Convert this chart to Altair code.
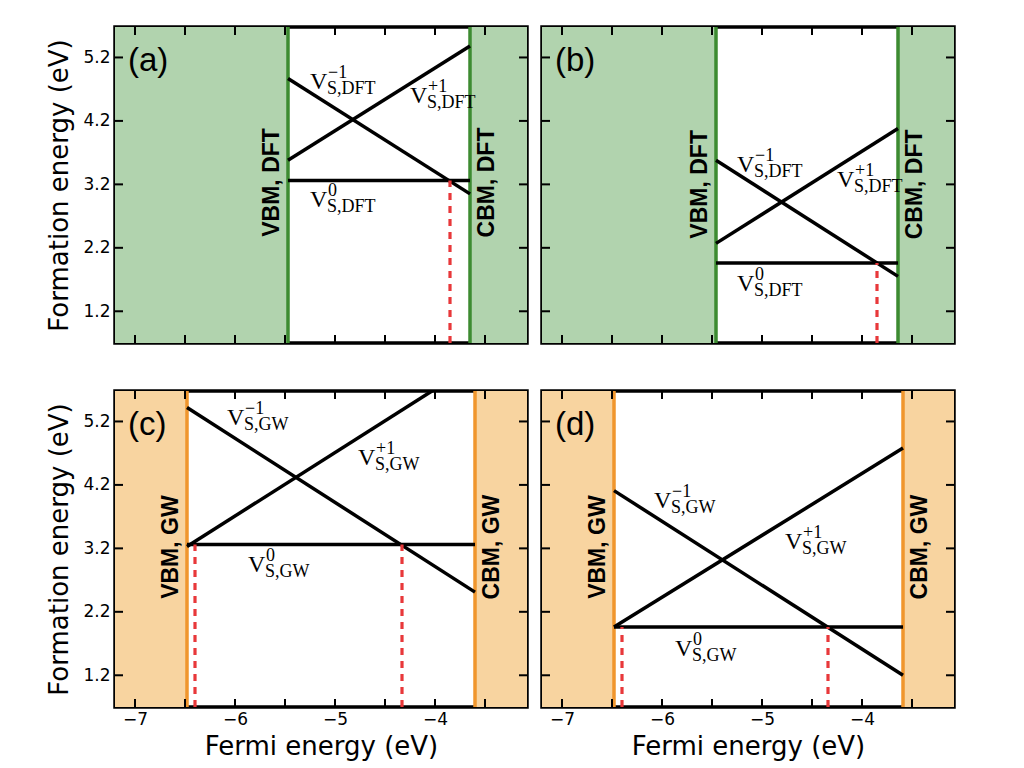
import altair as alt
import pandas as pd

# ---------------- data ----------------
X_DOMAIN = [-7.2, -3.08]
Y_DOMAIN = [0.7, 5.68]

panel_tags = ["(a)", "(b)", "(c)", "(d)"]
methods = ["DFT", "DFT", "GW", "GW"]
vbm = [-5.47, -5.46, -6.48, -6.48]
cbm = [-3.65, -3.64, -3.60, -3.59]

# formation energies of the charge states at the VBM and at the CBM
e_plus_vbm = [3.58, 2.27, 3.23, 1.96]
e_plus_cbm = [5.38, 4.08, 6.11, 4.78]
e_minus_vbm = [4.87, 3.58, 5.42, 4.11]
e_minus_cbm = [3.05, 1.75, 2.51, 1.20]
e_zero = [3.26, 1.96, 3.26, 1.96]

# transition levels (red dashed lines)
transitions = [[-3.85], [-3.85], [-6.40, -4.33], [-6.40, -4.34]]

# label anchors (data coords) for V^-1, V^+1, V^0
lab_minus = [(-5.25, 4.71), (-5.25, 3.40), (-6.08, 5.15), (-6.08, 3.83)]
lab_plus = [(-4.25, 4.48), (-4.25, 3.16), (-4.77, 4.52), (-4.77, 3.19)]
lab_zero = [(-5.25, 2.84), (-5.25, 1.52), (-5.87, 2.82), (-5.87, 1.51)]
sup_text = ["\u22121", "+1", "0"]
band_label_y = [3.23, 3.20, 3.22, 3.22]
tag_pos = (-7.07, 4.99)

x_tick_marks = [-7.0, -6.5, -6.0, -5.5, -5.0, -4.5, -4.0, -3.5]
x_tick_labels = [-7, -6, -5, -4]
y_ticks = [1.2, 2.2, 3.2, 4.2, 5.2]

fills = {"DFT": "#b1d3ae", "GW": "#f8d4a0"}
edges = {"DFT": "#3d8b31", "GW": "#f0962d"}

W, H = 412, 316
SANS = "DejaVu Sans"
SERIF = "Liberation Serif"
TICK = 8


def make_panel(i, show_x, show_y):
    m = methods[i]
    xs = alt.Scale(domain=X_DOMAIN, nice=False, zero=False)
    ys = alt.Scale(domain=Y_DOMAIN, nice=False, zero=False)
    if show_x:
        xaxis = alt.Axis(values=x_tick_labels, title="Fermi energy (eV)", ticks=False,
                         domain=False, grid=False, labelFont=SANS, labelFontSize=17,
                         labelColor="black", labelPadding=4, titleFont=SANS,
                         titleFontSize=26, titleFontWeight="normal", titleColor="black",
                         titlePadding=6,
                         labelExpr="replace(format(datum.value, 'd'), '-', '\u2212')")
    else:
        xaxis = None
    if show_y:
        yaxis = alt.Axis(values=y_ticks, format=".1f", title="Formation energy (eV)",
                         ticks=False, domain=False, grid=False, labelFont=SANS,
                         labelFontSize=17, labelColor="black", labelPadding=5,
                         titleFont=SANS, titleFontSize=26, titleFontWeight="normal",
                         titleColor="black", titlePadding=10)
    else:
        yaxis = None

    def X(f):
        return alt.X(f, type="quantitative", scale=xs, axis=xaxis)

    def Y(f):
        return alt.Y(f, type="quantitative", scale=ys, axis=yaxis)

    shade_df = pd.DataFrame({"x": [X_DOMAIN[0], cbm[i]], "x2": [vbm[i], X_DOMAIN[1]]})
    shade = alt.Chart(shade_df).mark_rect(color=fills[m], opacity=1).encode(
        x=X("x"), x2="x2", y=alt.value(0), y2=alt.value(H))

    edge_df = pd.DataFrame({"x": [vbm[i], cbm[i]]})
    edge = alt.Chart(edge_df).mark_rule(color=edges[m], strokeWidth=3.5).encode(x=X("x"))

    lines_df = pd.DataFrame({
        "x": [vbm[i], vbm[i], vbm[i]],
        "y": [e_plus_vbm[i], e_minus_vbm[i], e_zero[i]],
        "x2": [cbm[i], cbm[i], cbm[i]],
        "y2": [e_plus_cbm[i], e_minus_cbm[i], e_zero[i]],
    })
    lines = alt.Chart(lines_df).mark_rule(color="black", strokeWidth=3.5, clip=True).encode(
        x=X("x"), y=Y("y"), x2="x2", y2="y2")

    tr_df = pd.DataFrame({"x": transitions[i],
                          "y": [Y_DOMAIN[0]] * len(transitions[i]),
                          "y2": [e_zero[i]] * len(transitions[i])})
    trans = alt.Chart(tr_df).mark_rule(color="#e8383a", strokeWidth=3.2,
                                       strokeDash=[7, 6]).encode(
        x=X("x"), y=Y("y"), y2="y2")

    sub = "S," + m
    lab_df = pd.DataFrame({
        "x": [lab_minus[i][0], lab_plus[i][0], lab_zero[i][0]],
        "y": [lab_minus[i][1], lab_plus[i][1], lab_zero[i][1]],
        "sup": sup_text,
        "sub": [sub, sub, sub],
    })
    v_main = alt.Chart(lab_df).mark_text(text="V", font=SERIF, fontSize=24, align="left",
                                         baseline="alphabetic", color="black").encode(
        x=X("x"), y=Y("y"))
    v_sup = alt.Chart(lab_df).mark_text(font=SERIF, fontSize=18, align="left",
                                        baseline="alphabetic", dx=18, dy=-11,
                                        color="black").encode(
        x=X("x"), y=Y("y"), text="sup:N")
    v_sub = alt.Chart(lab_df).mark_text(font=SERIF, fontSize=18, align="left",
                                        baseline="alphabetic", dx=17, dy=5,
                                        color="black").encode(
        x=X("x"), y=Y("y"), text="sub:N")

    # rotated labels: dy moves the text across the band edge (rotated frame)
    vbm_lab = alt.Chart(pd.DataFrame({"x": [vbm[i]], "y": [band_label_y[i]],
                                      "t": ["VBM, " + m]})).mark_text(
        font="Liberation Sans", fontWeight="bold", fontSize=23, angle=270,
        align="center", baseline="alphabetic", dy=-9, color="black").encode(
        x=X("x"), y=Y("y"), text="t:N")
    cbm_lab = alt.Chart(pd.DataFrame({"x": [cbm[i]], "y": [band_label_y[i]],
                                      "t": ["CBM, " + m]})).mark_text(
        font="Liberation Sans", fontWeight="bold", fontSize=23, angle=270,
        align="center", baseline="alphabetic", dy=24, color="black").encode(
        x=X("x"), y=Y("y"), text="t:N")

    tag = alt.Chart(pd.DataFrame({"x": [tag_pos[0]], "y": [tag_pos[1]],
                                  "t": [panel_tags[i]]})).mark_text(
        font="Liberation Sans", fontSize=33, align="left", baseline="alphabetic",
        color="black").encode(x=X("x"), y=Y("y"), text="t:N")

    yt = pd.DataFrame({"y": y_ticks})
    xt = pd.DataFrame({"x": x_tick_marks})
    tick_l = alt.Chart(yt).mark_rule(color="black", strokeWidth=2).encode(
        y=Y("y"), x=alt.value(0), x2=alt.value(TICK))
    tick_r = alt.Chart(yt).mark_rule(color="black", strokeWidth=2).encode(
        y=Y("y"), x=alt.value(W - TICK), x2=alt.value(W))
    tick_b = alt.Chart(xt).mark_rule(color="black", strokeWidth=2).encode(
        x=X("x"), y=alt.value(H - TICK), y2=alt.value(H))
    tick_t = alt.Chart(xt).mark_rule(color="black", strokeWidth=2).encode(
        x=X("x"), y=alt.value(0), y2=alt.value(TICK))

    return alt.layer(shade, edge, lines, trans, v_main, v_sup, v_sub, vbm_lab, cbm_lab,
                     tag, tick_l, tick_r, tick_b, tick_t).properties(width=W, height=H)


row1 = alt.hconcat(make_panel(0, False, True), make_panel(1, False, False), spacing=9)
row2 = alt.hconcat(make_panel(2, True, True), make_panel(3, True, False), spacing=9)
chart = alt.vconcat(row1, row2, spacing=40).properties(
    padding={"left": 37, "top": 15, "right": 5, "bottom": 2},
    background="white",
).configure_view(stroke="black", strokeWidth=3.5)

chart.save("out.html", embed_options={"renderer": "svg", "actions": False})
